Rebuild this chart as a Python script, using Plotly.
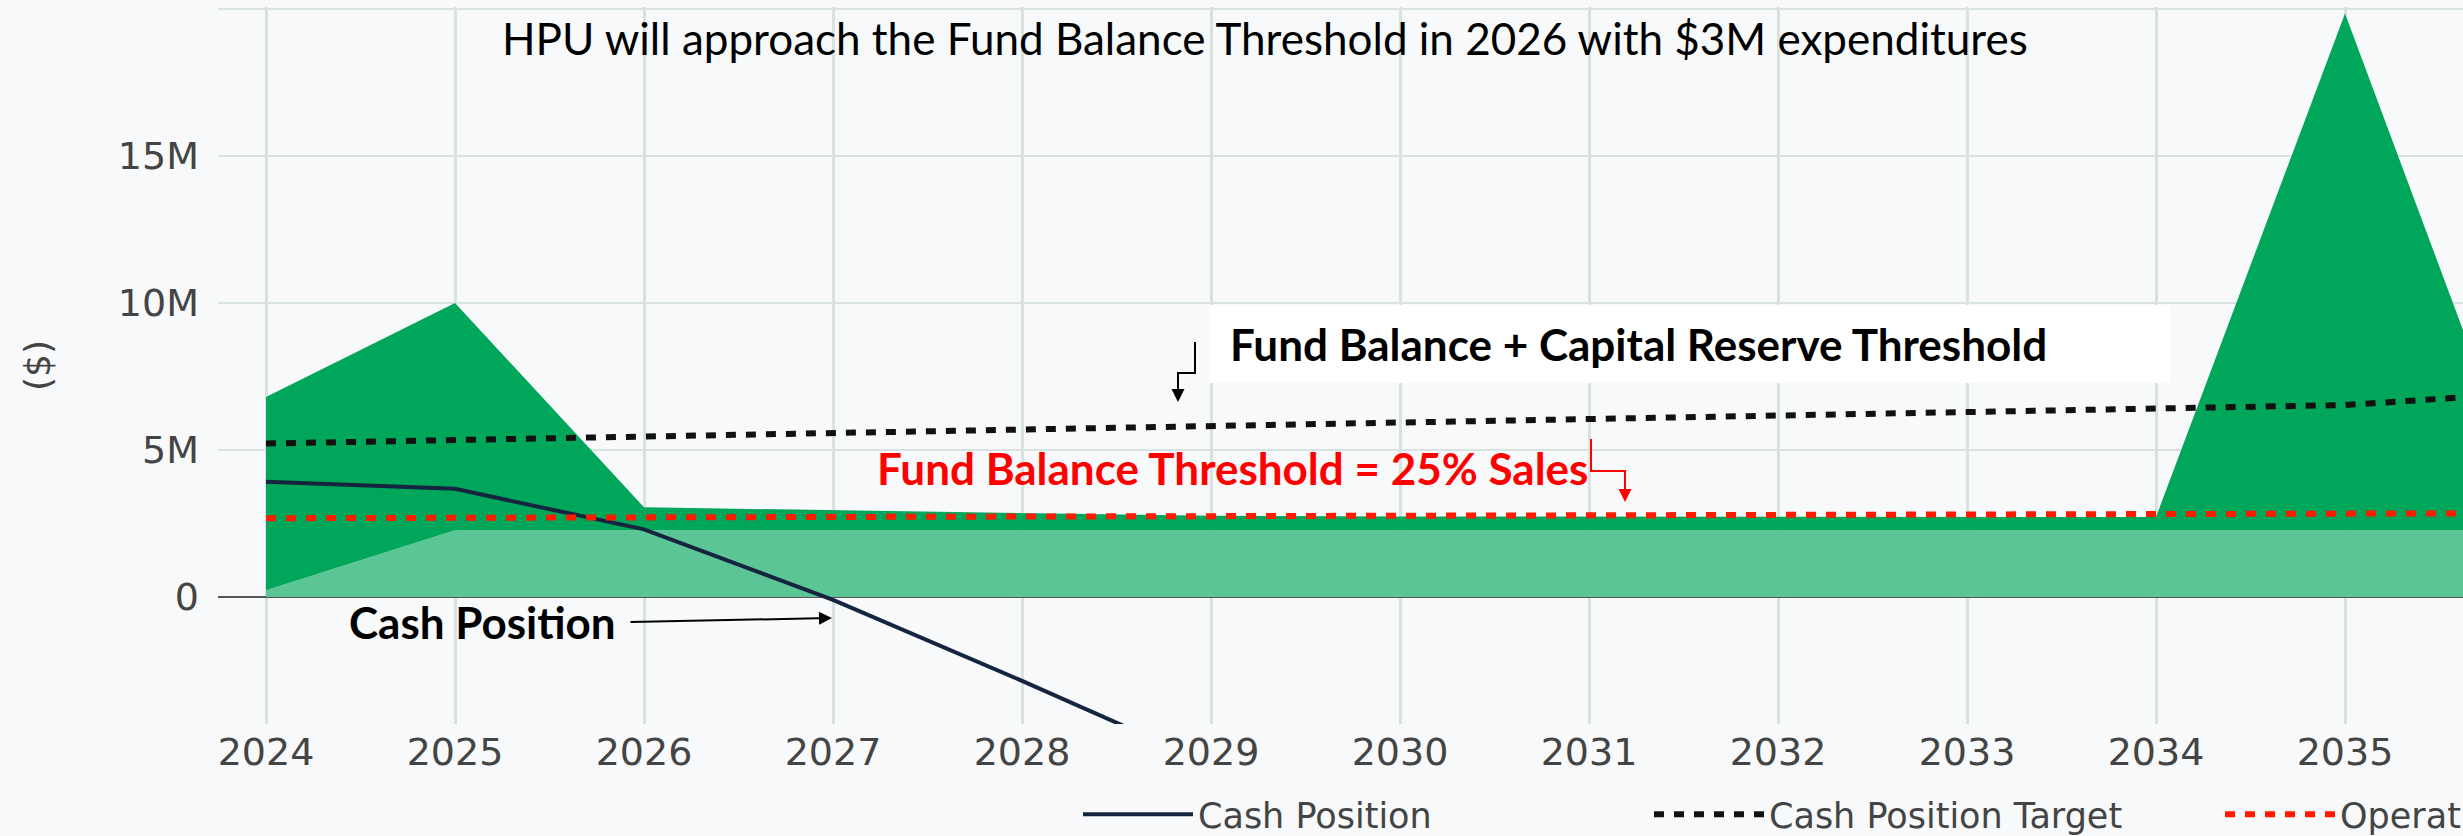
import plotly.graph_objects as go

# ---------------- data ----------------
years = [2024, 2025, 2026, 2027, 2028, 2029, 2030, 2031, 2032, 2033, 2034, 2035, 2036]
cash_years = [2024, 2025, 2026, 2027, 2028, 2029]
cash_position = [3.92e6, 3.68e6, 2.30e6, -0.10e6, -2.85e6, -5.70e6]
cash_position_target = [5.22e6, 5.34e6, 5.46e6, 5.58e6, 5.70e6, 5.82e6, 5.94e6,
                        6.06e6, 6.18e6, 6.30e6, 6.42e6, 6.53e6, 6.95e6]
operating_target = [2.68e6, 2.69e6, 2.70e6, 2.71e6, 2.72e6, 2.73e6, 2.74e6,
                    2.75e6, 2.76e6, 2.78e6, 2.80e6, 2.82e6, 2.85e6]
reserve_base = [0.23e6, 2.27e6, 2.27e6, 2.27e6, 2.27e6, 2.27e6, 2.27e6,
                2.27e6, 2.27e6, 2.27e6, 2.27e6, 2.27e6, 2.27e6]
fund_total = [6.80e6, 10.0e6, 3.05e6, 2.95e6, 2.85e6, 2.76e6, 2.74e6,
              2.73e6, 2.72e6, 2.72e6, 2.72e6, 19.85e6, 2.60e6]
x_tickvals = [2024, 2025, 2026, 2027, 2028, 2029, 2030, 2031, 2032, 2033, 2034, 2035]
y_tickvals = [0, 5e6, 10e6, 15e6, 20e6]
y_ticktext = ["0", "5M", "10M", "15M", ""]

title_text = "HPU will approach the Fund Balance Threshold in 2026 with $3M expenditures"
label_capital = "Fund Balance + Capital Reserve Threshold"
label_fund = "Fund Balance Threshold = 25% Sales"
label_cash = "Cash Position"

# ---------------- geometry ----------------
VIEW_W, VIEW_H = 2463, 836
W, H = 3000, 880
L, R, T = 218, 0, 7
PLOT_BOTTOM_PX = 724
B = H - PLOT_BOTTOM_PX
PX_PER_YEAR = 189.0
X0_PX = 266.0          # pixel of 2024
Y_TOP, Y_BOT = 20.07e6, -4.32e6

x_lo = 2024 - (X0_PX - L) / PX_PER_YEAR
x_hi = 2024 + (W - R - X0_PX) / PX_PER_YEAR


def px(x):
    return (x - L) / (W - L - R)


def py(y):
    return (H - B - y) / (H - T - B)


BG = "#F7F9FB"
GRID = "#D7E2E1"
TICK_FONT = dict(family="DejaVu Sans", size=38, color="#444444")
ANN_FONT = "Lato"

fig = go.Figure()

fig.add_trace(go.Scatter(x=years, y=reserve_base, mode="lines", line=dict(width=0),
                         fill="tozeroy", fillcolor="#5BC595", showlegend=False,
                         hoverinfo="skip"))
fig.add_trace(go.Scatter(x=years, y=fund_total, mode="lines", line=dict(width=0),
                         fill="tonexty", fillcolor="#00A65A", showlegend=False,
                         hoverinfo="skip"))
fig.add_trace(go.Scatter(x=cash_years, y=cash_position, mode="lines", name="Cash Position",
                         line=dict(color="#15243F", width=4)))
fig.add_trace(go.Scatter(x=years, y=cash_position_target, mode="lines",
                         name="Cash Position Target",
                         line=dict(color="#111111", width=6, dash="10px,10px")))
fig.add_trace(go.Scatter(x=years, y=operating_target, mode="lines",
                         name="Operating Reserve Target",
                         line=dict(color="#FF1A00", width=6, dash="10px,10px")))

annotations = [
    dict(text=title_text, x=px(1265), y=py(38), xref="paper", yref="paper",
         xanchor="center", yanchor="middle", showarrow=False,
         font=dict(family=ANN_FONT, size=44, color="#000000")),
    dict(text="<b>%s</b>" % label_capital, x=px(1228), y=py(344), xref="paper", yref="paper",
         xanchor="left", yanchor="middle", showarrow=False,
         font=dict(family=ANN_FONT, size=44, color="#000000")),
    dict(text="<b>%s</b>" % label_fund, x=px(1232), y=py(468), xref="paper", yref="paper",
         xanchor="center", yanchor="middle", showarrow=False,
         font=dict(family=ANN_FONT, size=44, color="#FF0000")),
    dict(text="<b>%s</b>" % label_cash, x=px(482), y=py(622), xref="paper", yref="paper",
         xanchor="center", yanchor="middle", showarrow=False,
         font=dict(family=ANN_FONT, size=44, color="#000000")),
    # arrow heads
    dict(text="", x=px(1178), y=py(402), xref="paper", yref="paper", showarrow=True,
         ax=0, ay=-29, arrowhead=2, arrowsize=1.3, arrowwidth=2, arrowcolor="#000000"),
    dict(text="", x=px(1625), y=py(502), xref="paper", yref="paper", showarrow=True,
         ax=0, ay=-31, arrowhead=2, arrowsize=1.3, arrowwidth=2, arrowcolor="#FF0000"),
    dict(text="", x=px(832), y=py(618), xref="paper", yref="paper", showarrow=True,
         ax=-203, ay=4, arrowhead=2, arrowsize=1.3, arrowwidth=2, arrowcolor="#000000"),
]

shapes = [
    dict(type="rect", xref="paper", yref="paper", x0=px(1209), x1=px(2171),
         y0=py(383), y1=py(305), fillcolor="#FFFFFF", line=dict(width=0), layer="above"),
    dict(type="path", xref="paper", yref="paper",
         path="M %f %f L %f %f L %f %f L %f %f" % (px(1195), py(342), px(1195), py(373),
                                                 px(1178), py(373), px(1178), py(380)),
         line=dict(color="#000000", width=2)),
    dict(type="path", xref="paper", yref="paper",
         path="M %f %f L %f %f L %f %f L %f %f" % (px(1591), py(439), px(1591), py(471),
                                                 px(1625), py(471), px(1625), py(478)),
         line=dict(color="#FF0000", width=2)),
]

fig.update_layout(
    width=W, height=H,
    margin=dict(l=L, r=R, t=T, b=B, pad=0, autoexpand=False),
    paper_bgcolor=BG, plot_bgcolor=BG,
    showlegend=True,
    legend=dict(orientation="h", x=px(1078), xanchor="left", y=py(785), yanchor="top",
                traceorder="normal",
                font=dict(family="DejaVu Sans", size=35, color="#444444"),
                itemwidth=110, entrywidth=446, entrywidthmode="pixels",
                bgcolor="rgba(0,0,0,0)", tracegroupgap=0),
    annotations=annotations,
    shapes=shapes,
    xaxis=dict(range=[x_lo, x_hi], tickvals=x_tickvals, showgrid=True, gridcolor=GRID,
               gridwidth=3, zeroline=False, showline=False, ticks="",
               tickfont=TICK_FONT, ticklabelstandoff=2, automargin=False),
    yaxis=dict(range=[Y_BOT, Y_TOP], tickvals=y_tickvals, ticktext=y_ticktext,
               showgrid=True, gridcolor=GRID, gridwidth=2, zeroline=True,
               zerolinecolor="#555555", zerolinewidth=2, showline=False, ticks="",
               tickfont=TICK_FONT, ticklabelstandoff=18, automargin=False,
               title=dict(text="($)", font=dict(family="DejaVu Sans", size=36, color="#444444"),
                          standoff=56)),
)

post = (
    "document.body.style.margin='0';"
    "document.documentElement.style.overflow='hidden';"
    "document.body.style.overflow='hidden';"
    "var d=document.getElementById('{plot_id}');"
    "d.parentElement.style.width='%dpx';"
    "d.parentElement.style.height='%dpx';"
    "d.parentElement.style.overflow='hidden';" % (VIEW_W, VIEW_H)
)

fig.write_html("out.html", post_script=post)
